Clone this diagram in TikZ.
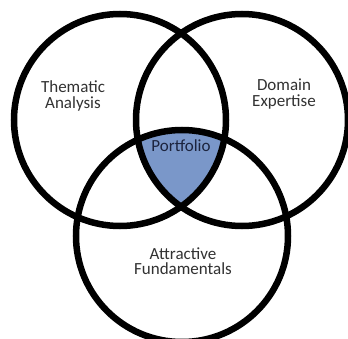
\documentclass[tikz,border=0pt]{standalone}
\usepackage{fontspec}
\setmainfont{Carlito}
\definecolor{portfolioblue}{RGB}{122,151,201}
\definecolor{labelgray}{RGB}{50,50,50}
\definecolor{portfoliotext}{RGB}{28,36,62}
\begin{document}
\begin{tikzpicture}[x=1pt,y=-1pt,
  ring/.style={circle,draw=black,line width=6.5pt,minimum size=212pt,inner sep=0pt},
  lbl/.style={font=\fontsize{17}{15.5}\selectfont,text=labelgray,align=center,inner sep=0pt}]
\useasboundingbox (0,0) rectangle (348,339);
\fill[white] (0,0) rectangle (348,339);
\begin{scope}
  \clip (120,120) circle[radius=106pt];
  \clip (242,120) circle[radius=106pt];
  \fill[portfolioblue] (182,236) circle[radius=106pt];
\end{scope}
\node[ring] (thematic) at (120,120) {};
\node[ring] (domain) at (242,120) {};
\node[ring] (attractive) at (182,236) {};
\node[lbl] (tlabel) at (73,96) {Thematic\\Analysis};
\node[lbl] (dlabel) at (284,94) {Domain\\Expertise};
\node[lbl,text=portfoliotext] (plabel) at (181,146) {Portfolio};
\node[lbl] (alabel) at (183,261) {Attractive\\Fundamentals};
\end{tikzpicture}
\end{document}
